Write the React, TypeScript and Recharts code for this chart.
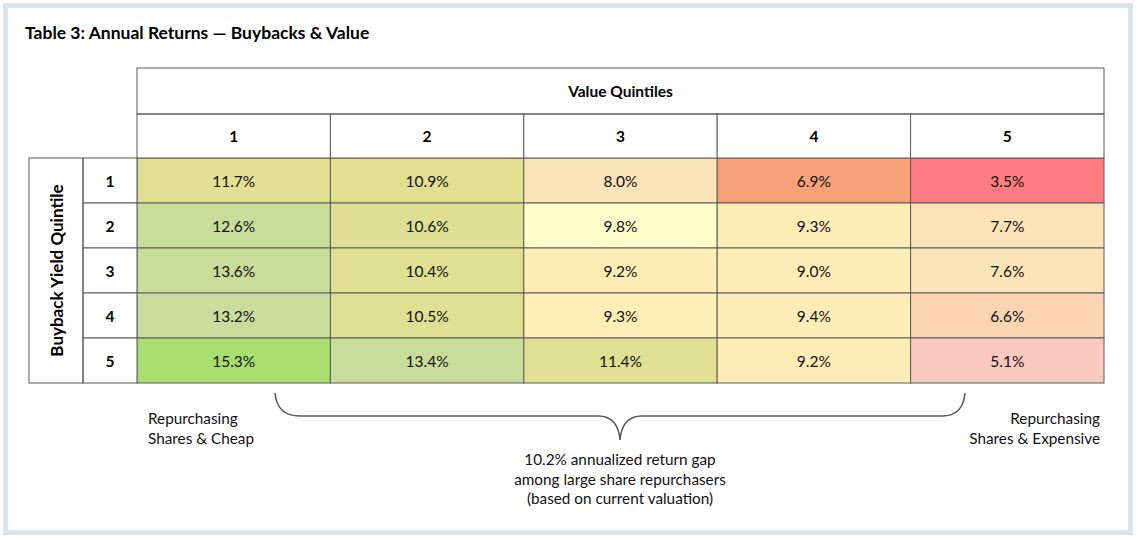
import React from "react";
import { ScatterChart, Scatter, XAxis, YAxis } from "recharts";

// ページの余白を消す
document.body.style.margin = "0";

// 表のデータ
const valueQuintiles = [1, 2, 3, 4, 5];
const buybackQuintiles = [1, 2, 3, 4, 5];
const returns = [
  [11.7, 10.9, 8.0, 6.9, 3.5],
  [12.6, 10.6, 9.8, 9.3, 7.7],
  [13.6, 10.4, 9.2, 9.0, 7.6],
  [13.2, 10.5, 9.3, 9.4, 6.6],
  [15.3, 13.4, 11.4, 9.2, 5.1],
];
// セルの背景色（条件付き書式）
const cellColors = [
  ["#e2e193", "#e1e091", "#fbe4b8", "#f7a27a", "#ff7c80"],
  ["#c9dd9b", "#dedf93", "#ffffcc", "#feedb6", "#fbe3b7"],
  ["#c9dd9b", "#e0e093", "#feeeb6", "#feedb6", "#fbe4b7"],
  ["#cbdd9c", "#e0e093", "#feefb7", "#feedb6", "#fbd4b4"],
  ["#a9df6e", "#c9dd9b", "#e0e093", "#feedb6", "#f9c9bf"],
];
const title = "Table 3: Annual Returns — Buybacks & Value";
const colHeader = "Value Quintiles";
const rowHeader = "Buyback Yield Quintile";
const leftNote = ["Repurchasing", "Shares & Cheap"];
const rightNote = ["Repurchasing", "Shares & Expensive"];
const centerNote = [
  "10.2% annualized return gap",
  "among large share repurchasers",
  "(based on current valuation)",
];

const cells = returns.flatMap((row, r) =>
  row.map((v, c) => ({
    col: valueQuintiles[c],
    row: buybackQuintiles[r],
    value: v,
    fill: cellColors[r][c],
  }))
);

// レイアウト
const W = 1138;
const H = 540;
const FONT = "Lato, 'Noto Sans', sans-serif";
const GRID = "#5a5a5a";
const PLOT_LEFT = 137;
const PLOT_RIGHT = 1104;
const PLOT_TOP = 158;
const PLOT_BOTTOM = 383;
const HEADER_TOP = 114;
const TOP_TOP = 68;
const ROWNUM_LEFT = 83;
const LABEL_LEFT = 29;
const CELL_W = (PLOT_RIGHT - PLOT_LEFT) / valueQuintiles.length;
const CELL_H = (PLOT_BOTTOM - PLOT_TOP) / buybackQuintiles.length;

const renderCell = (props: any) => {
  const { cx, cy, payload } = props;
  return (
    <g>
      <rect
        x={cx - CELL_W / 2}
        y={cy - CELL_H / 2}
        width={CELL_W}
        height={CELL_H}
        fill={payload.fill}
        stroke={GRID}
        strokeWidth={1}
      />
      <text
        x={cx}
        y={cy}
        textAnchor="middle"
        dominantBaseline="central"
        fontFamily={FONT}
        fontSize={15.5}
        fill="#111"
      >
        {payload.value.toFixed(1)}%
      </text>
    </g>
  );
};

const ColTick = (props: any) => {
  const { x, payload } = props;
  return (
    <g>
      <rect
        x={x - CELL_W / 2}
        y={HEADER_TOP}
        width={CELL_W}
        height={PLOT_TOP - HEADER_TOP}
        fill="#fff"
        stroke={GRID}
      />
      <text
        x={x}
        y={(HEADER_TOP + PLOT_TOP) / 2}
        textAnchor="middle"
        dominantBaseline="central"
        fontFamily={FONT}
        fontWeight={700}
        fontSize={15.5}
        fill="#000"
      >
        {payload.value}
      </text>
    </g>
  );
};

const RowTick = (props: any) => {
  const { y, payload } = props;
  return (
    <g>
      <rect
        x={ROWNUM_LEFT}
        y={y - CELL_H / 2}
        width={PLOT_LEFT - ROWNUM_LEFT}
        height={CELL_H}
        fill="#fff"
        stroke={GRID}
      />
      <text
        x={(ROWNUM_LEFT + PLOT_LEFT) / 2}
        y={y}
        textAnchor="middle"
        dominantBaseline="central"
        fontFamily={FONT}
        fontWeight={700}
        fontSize={15.5}
        fill="#000"
      >
        {payload.value}
      </text>
    </g>
  );
};

const txt = (s: string, x: number, y: number, anchor: string, extra: any = {}) => (
  <text
    key={s + y}
    x={x}
    y={y}
    textAnchor={anchor}
    dominantBaseline="central"
    fontFamily={FONT}
    fontSize={15.3}
    fill="#111"
    {...extra}
  >
    {s}
  </text>
);

export default function App() {
  const midX = (PLOT_LEFT + PLOT_RIGHT) / 2;
  return (
    <div style={{ position: "relative", width: W, height: H, background: "#fff" }}>
      <ScatterChart
        width={W}
        height={H}
        margin={{
          top: HEADER_TOP,
          right: W - PLOT_RIGHT,
          bottom: H - PLOT_BOTTOM,
          left: ROWNUM_LEFT,
        }}
      >
        <XAxis
          type="number"
          dataKey="col"
          orientation="top"
          domain={[0.5, 5.5]}
          ticks={valueQuintiles}
          height={PLOT_TOP - HEADER_TOP}
          axisLine={false}
          tickLine={false}
          tick={<ColTick />}
          interval={0}
        />
        <YAxis
          type="number"
          dataKey="row"
          domain={[0.5, 5.5]}
          reversed
          ticks={buybackQuintiles}
          width={PLOT_LEFT - ROWNUM_LEFT}
          axisLine={false}
          tickLine={false}
          tick={<RowTick />}
          interval={0}
        />
        <Scatter data={cells} shape={renderCell} isAnimationActive={false} />
      </ScatterChart>

      <svg
        width={W}
        height={H}
        style={{ position: "absolute", left: 0, top: 0, pointerEvents: "none" }}
      >
        {/* 外枠 */}
        <rect x={5.5} y={5.5} width={1125} height={527} fill="none" stroke="#dbe3eb" strokeWidth={5} />
        {txt(title, 25, 32, "start", { fontWeight: 700, fontSize: 17.5, fill: "#000" })}

        {/* Value Quintiles 見出し */}
        <rect
          x={PLOT_LEFT}
          y={TOP_TOP}
          width={PLOT_RIGHT - PLOT_LEFT}
          height={HEADER_TOP - TOP_TOP}
          fill="none"
          stroke={GRID}
        />
        {txt(colHeader, midX, (TOP_TOP + HEADER_TOP) / 2, "middle", {
          fontWeight: 700,
          fontSize: 15.5,
          fill: "#000",
        })}

        {/* Buyback Yield Quintile 見出し */}
        <rect
          x={LABEL_LEFT}
          y={PLOT_TOP}
          width={ROWNUM_LEFT - LABEL_LEFT}
          height={PLOT_BOTTOM - PLOT_TOP}
          fill="none"
          stroke={GRID}
        />
        {txt(rowHeader, 0, 0, "middle", {
          fontWeight: 700,
          fontSize: 17,
          fill: "#000",
          transform: `translate(${(LABEL_LEFT + ROWNUM_LEFT) / 2},${(PLOT_TOP + PLOT_BOTTOM) / 2}) rotate(-90)`,
        })}

        {/* 波括弧 */}
        <path
          d="M275,393 Q277,416 300,416 L598,416 Q618,416 620,440 Q622,416 642,416 L942,416 Q963,416 965,393"
          fill="none"
          stroke="#555"
          strokeWidth={1.5}
        />

        {leftNote.map((s, i) => txt(s, 148, 418 + i * 20, "start"))}
        {rightNote.map((s, i) => txt(s, 1100, 418 + i * 20, "end"))}
        {centerNote.map((s, i) => txt(s, 620, 459 + i * 19.5, "middle"))}
      </svg>
    </div>
  );
}
